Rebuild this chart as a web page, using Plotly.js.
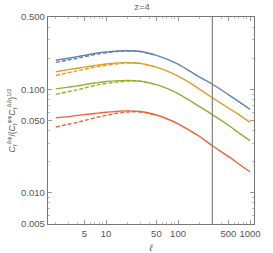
<!DOCTYPE html>
<html><head><meta charset="utf-8">
<script src="https://cdn.plot.ly/plotly-3.0.1.min.js"></script>
<style>html,body{margin:0;padding:0;background:#fff}#c{width:273px;height:253px}</style>
</head><body><div id="c"></div>
<script>
const ell = [2,3,4,5,7,10,15,20,30,50,70,100,150,200,300,500,700,1000];
const blueSolid = [0.191,0.200,0.207,0.213,0.222,0.230,0.235,0.236,0.232,0.213,0.196,0.175,0.148,0.131,0.112,0.089,0.076,0.064];
const ellDash = [2,3,4,5,7,10,15,20,30,50];
const blueDash = [0.182,0.192,0.200,0.207,0.217,0.226,0.233,0.235,0.232,0.213];
const orangeSolid = [0.148,0.155,0.160,0.164,0.170,0.176,0.180,0.181,0.178,0.164,0.151,0.134,0.114,0.100,0.083,0.066,0.057,0.048];
const orangeDash = [0.136,0.145,0.151,0.156,0.164,0.171,0.177,0.180,0.178,0.164];
const greenSolid = [0.101,0.105,0.108,0.111,0.115,0.119,0.121,0.122,0.120,0.111,0.102,0.091,0.077,0.068,0.057,0.045,0.038,0.032];
const greenDash = [0.0895,0.095,0.099,0.103,0.109,0.114,0.118,0.120,0.1195,0.111];
const redSolid = [0.053,0.0545,0.056,0.057,0.0585,0.060,0.0615,0.062,0.061,0.0565,0.052,0.0465,0.0395,0.035,0.0285,0.0225,0.019,0.016];
const redDash = [0.0433,0.046,0.048,0.050,0.053,0.056,0.059,0.0605,0.0605,0.0563];
const xTicks = [5,10,50,100,500,1000];
const xTickText = ['5','10','50','100','500','1000'];
const yTicks = [0.005,0.01,0.05,0.1,0.5];
const yTickText = ['0.005','0.010','0.050','0.100','0.500'];
const vLine = 300;
const colors = ['#5E81B5','#E19C24','#8FB032','#EB6235'];

const solids = [blueSolid, orangeSolid, greenSolid, redSolid];
const dashes = [blueDash, orangeDash, greenDash, redDash];
const traces = [];
solids.forEach((s,i)=>{
  traces.push({x:ell, y:s, mode:'lines', line:{color:colors[i], width:1.4, shape:'spline'}, hoverinfo:'skip'});
  traces.push({x:ellDash, y:dashes[i], mode:'lines', line:{color:colors[i], width:1.4, dash:'4px,2px', shape:'spline'}, hoverinfo:'skip'});
});

const xMinor = [];
[1,10,100,1000].forEach(d=>{for(let k=2;k<=9;k++){const v=k*d; if(v>1.5&&v<1140) xMinor.push(v);}});
const yMinor = [];
[0.001,0.01,0.1].forEach(d=>{for(let k=2;k<=9;k++){const v=+(k*d).toFixed(4); if(v>0.005&&v<0.5) yMinor.push(v);}});

const font = {family:'Liberation Sans, Arial, sans-serif', size:9.5, color:'#555'};
const layout = {
  width:273, height:253,
  margin:{l:48, r:19, t:17, b:29, pad:0},
  paper_bgcolor:'#fff', plot_bgcolor:'#fff',
  showlegend:false,
  font:font,
  title:{text:'z=4', font:{family:font.family, size:9.5, color:'#666'}, x:0.52, xanchor:'center', y:0.985, yanchor:'top'},
  xaxis:{type:'log', range:[Math.log10(1.56), Math.log10(1136)], tickvals:xTicks, ticktext:xTickText,
    ticks:'inside', ticklen:4, tickcolor:'#999', showgrid:false, zeroline:false,
    showline:true, linecolor:'#777', linewidth:1.2, mirror:'ticks',
    minor:{tickvals:xMinor, ticks:'inside', ticklen:2, tickcolor:'#bbb', showgrid:false},
    title:{text:'<i>ℓ</i>', font:{family:font.family, size:9.5, color:'#555'}, standoff:6}},
  yaxis:{type:'log', range:[Math.log10(0.005), Math.log10(0.5)], tickvals:yTicks, ticktext:yTickText,
    ticks:'inside', ticklen:4, tickcolor:'#999', showgrid:false, zeroline:false,
    showline:true, linecolor:'#777', linewidth:1.2, mirror:'ticks',
    minor:{tickvals:yMinor, ticks:'inside', ticklen:2, tickcolor:'#bbb', showgrid:false},
    title:{text:'<i>C</i><sub>ℓ</sub><sup>Δφ</sup>/(<i>C</i><sub>ℓ</sub><sup>φφ</sup><i>C</i><sub>ℓ</sub><sup>ΔΔ</sup>)<sup>1/2</sup>', font:{family:font.family, size:8.5, color:'#555'}, standoff:4}},
  shapes:[{type:'line', xref:'x', yref:'paper', x0:vLine, x1:vLine, y0:0, y1:1, line:{color:'#888', width:1.3}}]
};
Plotly.newPlot('c', traces, layout, {staticPlot:true, displayModeBar:false});
</script></body></html>
